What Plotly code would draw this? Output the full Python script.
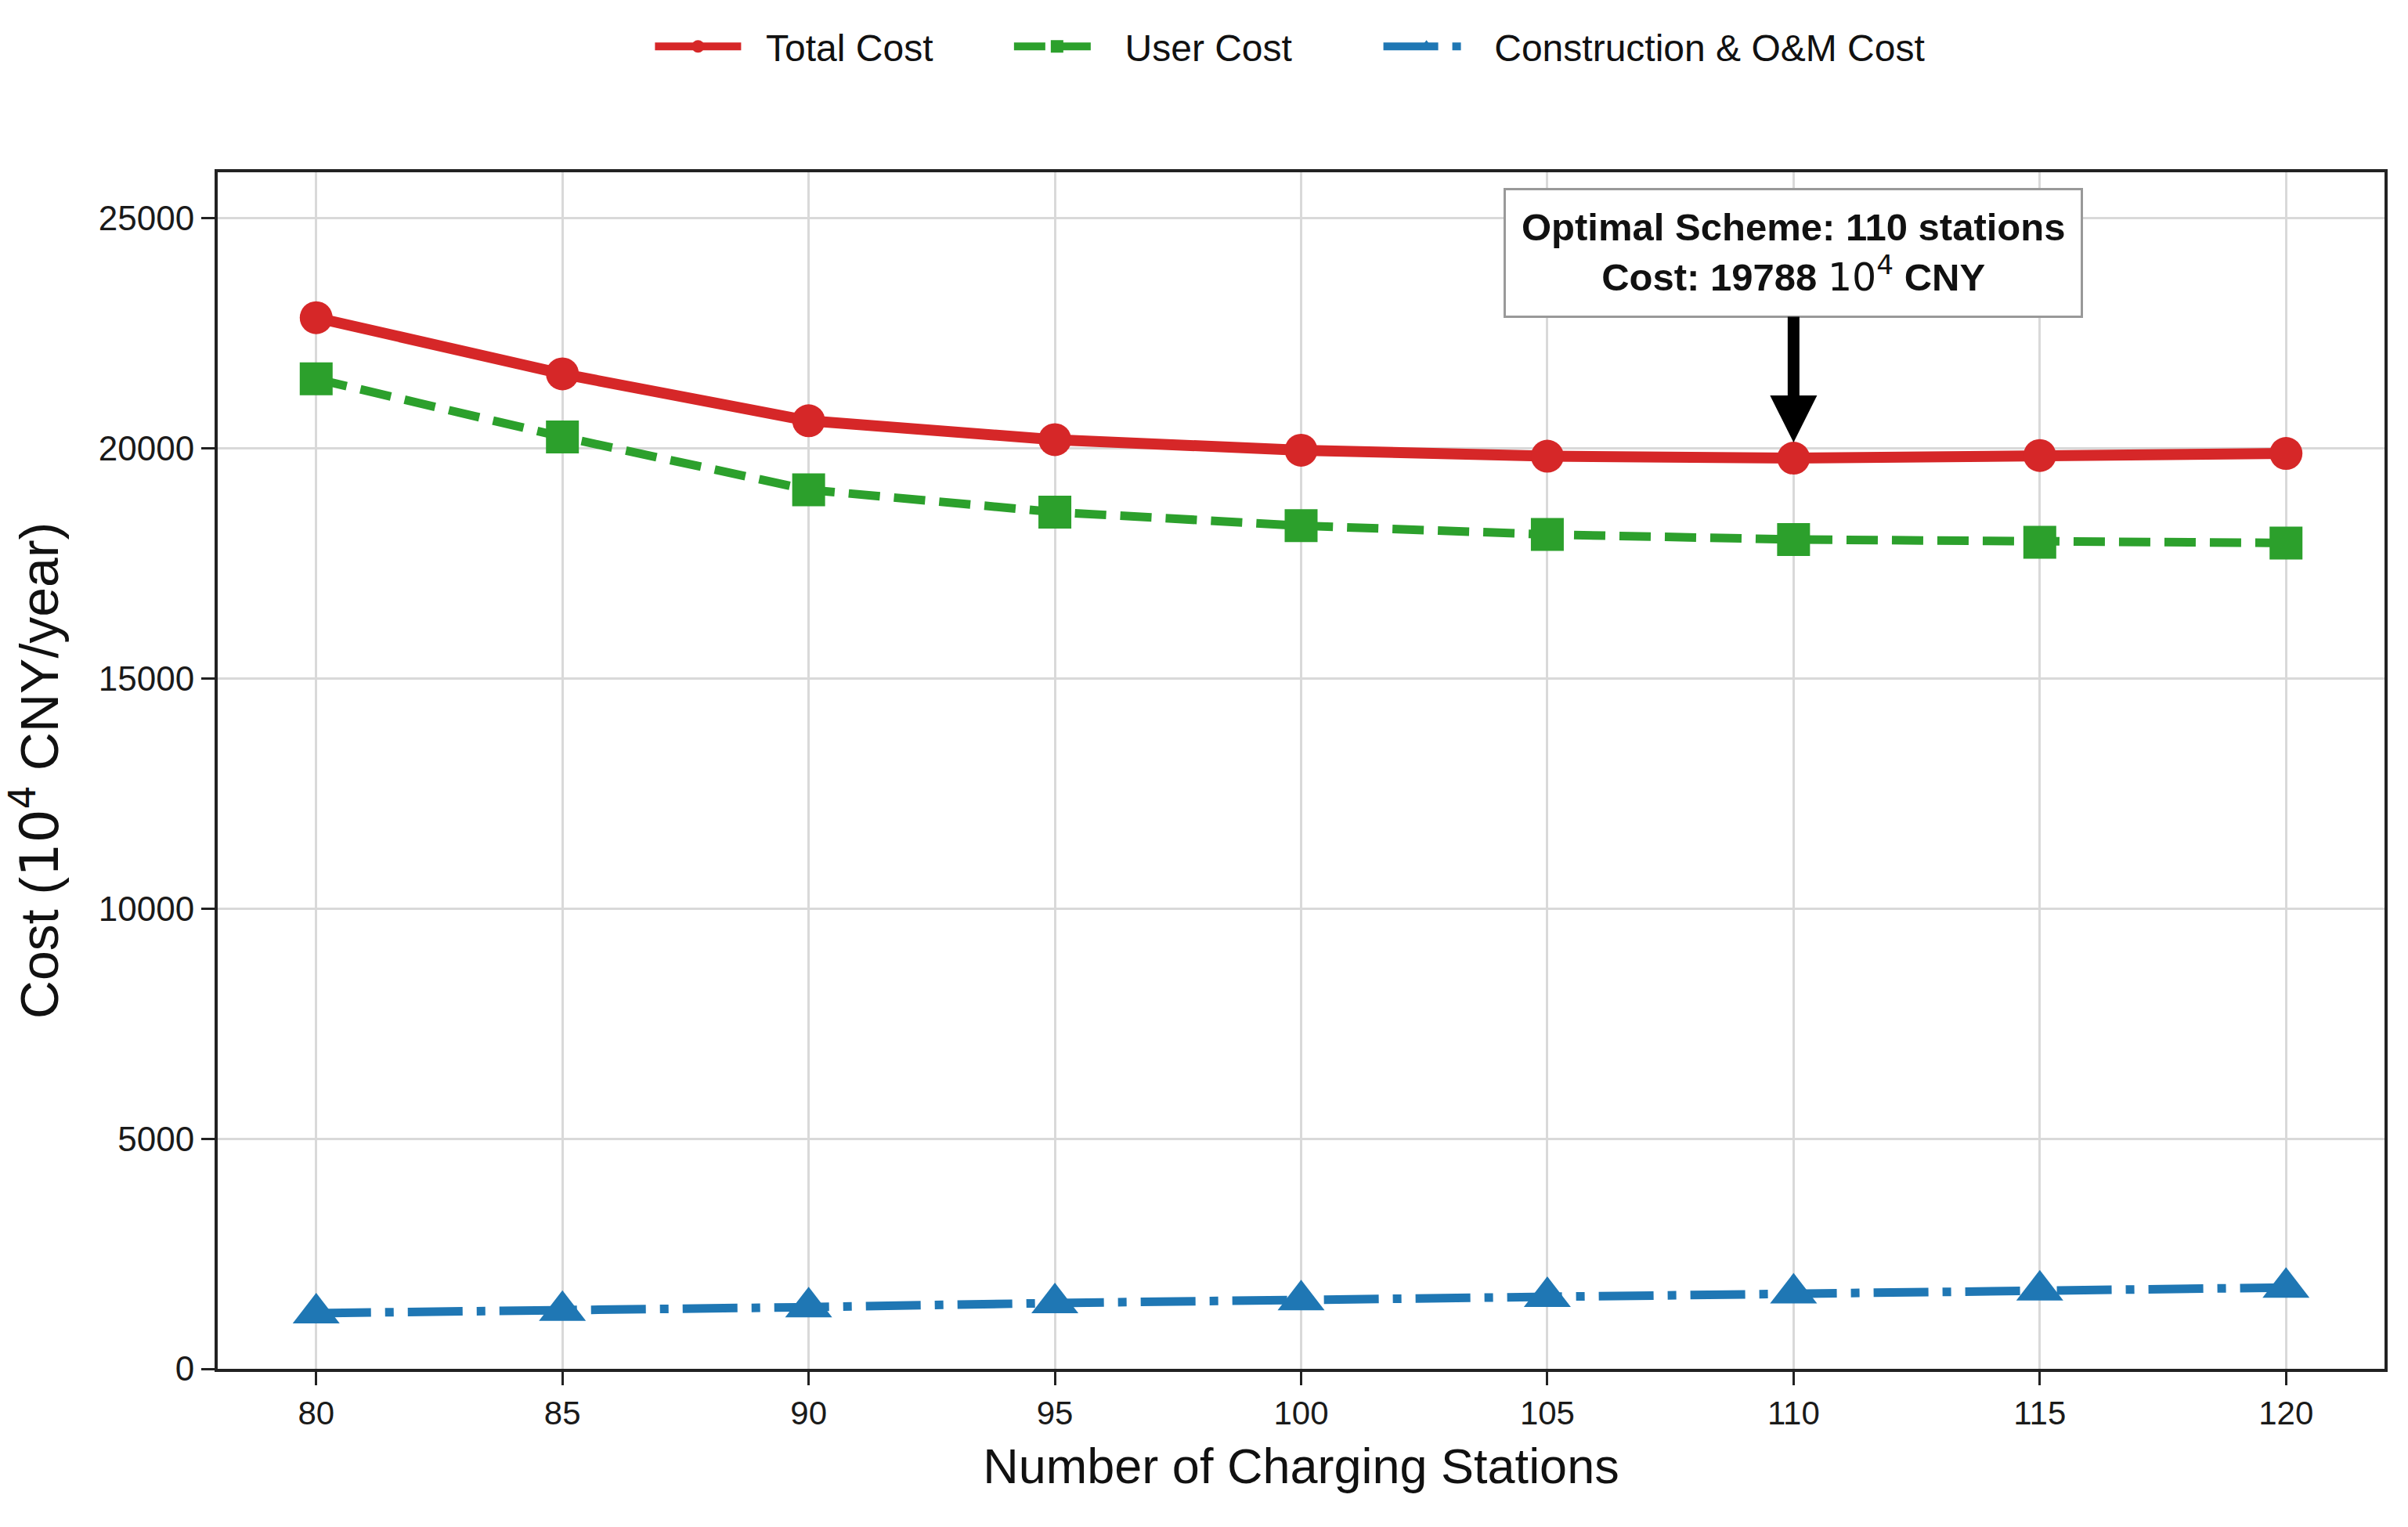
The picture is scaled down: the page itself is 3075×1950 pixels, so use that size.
import plotly.graph_objects as go

stations = [80, 85, 90, 95, 100, 105, 110, 115, 120]
total_cost = [22840, 21620, 20600, 20190, 19960, 19830, 19788, 19845, 19890]
user_cost = [21510, 20250, 19100, 18615, 18320, 18130, 18020, 17960, 17945]
build_cost = [1210, 1265, 1340, 1430, 1495, 1565, 1640, 1705, 1765]

x_ticks = [80, 85, 90, 95, 100, 105, 110, 115, 120]
y_ticks = [0, 5000, 10000, 15000, 20000, 25000]

opt_x = 110
opt_y = 19788

SANS = "Liberation Sans, Arial, sans-serif"
SP = "\u00a0\u00a0"

fig = go.Figure()
fig.add_trace(go.Scatter(
    x=stations, y=total_cost, name=SP + "Total Cost" + "\u00a0" * 7, mode="lines+markers",
    line=dict(color="#d62728", width=14),
    marker=dict(symbol="circle", size=42, color="#d62728"),
))
fig.add_trace(go.Scatter(
    x=stations, y=user_cost, name=SP + "User Cost" + "\u00a0" * 8, mode="lines+markers",
    line=dict(color="#2ca02c", width=11, dash="40px,18px"),
    marker=dict(symbol="square", size=42, color="#2ca02c"),
))
fig.add_trace(go.Scatter(
    x=stations, y=build_cost, name=SP + "Construction & O&M Cost", mode="lines+markers",
    line=dict(color="#1f77b4", width=11, dash="70px,18px,11px,18px"),
    marker=dict(symbol="triangle-up", size=52, color="#1f77b4"),
))

axis_common = dict(
    showgrid=True, gridcolor="#d9d9d9", gridwidth=3,
    showline=True, linecolor="#222222", linewidth=4, mirror=True,
    ticks="outside", ticklen=17, tickwidth=3, tickcolor="#222222",
    zeroline=False,
)

fig.update_layout(
    width=3075, height=1950,
    margin=dict(l=278, r=30, t=220, b=202, pad=0),
    paper_bgcolor="white", plot_bgcolor="white",
    xaxis=dict(
        range=[78, 122], tickvals=x_ticks,
        tickfont=dict(family=SANS, size=42, color="#1a1a1a"),
        title=dict(text="Number of Charging Stations",
                   font=dict(family=SANS, size=63, color="#111111"), standoff=24),
        **axis_common,
    ),
    yaxis=dict(
        range=[0, 26000], tickvals=y_ticks, tickformat="d",
        tickfont=dict(family=SANS, size=44, color="#1a1a1a"),
        title=dict(text="Cost (<span style='font-family:DejaVu Sans'>10<sup>4</sup></span> CNY/year)",
                   font=dict(family=SANS, size=68, color="#111111"), standoff=30),
        **axis_common,
    ),
    legend=dict(
        orientation="h", x=0.2, xanchor="left", y=1.105, yanchor="middle",
        font=dict(family=SANS, size=48, color="#111111"),
        itemwidth=110, itemsizing="trace", bgcolor="rgba(0,0,0,0)",
    ),
    showlegend=True,
)

fig.add_annotation(
    x=opt_x, y=opt_y, xref="x", yref="y",
    ax=0, ay=-262, axref="pixel", ayref="pixel",
    text=("<b>Optimal Scheme: 110 stations</b><br>"
          "<b>Cost: 19788 </b><span style='font-family:DejaVu Sans'>10<sup>4</sup></span><b> CNY</b>"),
    font=dict(family=SANS, size=49, color="#111111"),
    align="center",
    bgcolor="white", bordercolor="#999999", borderwidth=3, borderpad=20,
    showarrow=True, arrowhead=2, arrowsize=0.8, arrowwidth=15, arrowcolor="black",
    standoff=20,
)

fig.write_html("out.html")
